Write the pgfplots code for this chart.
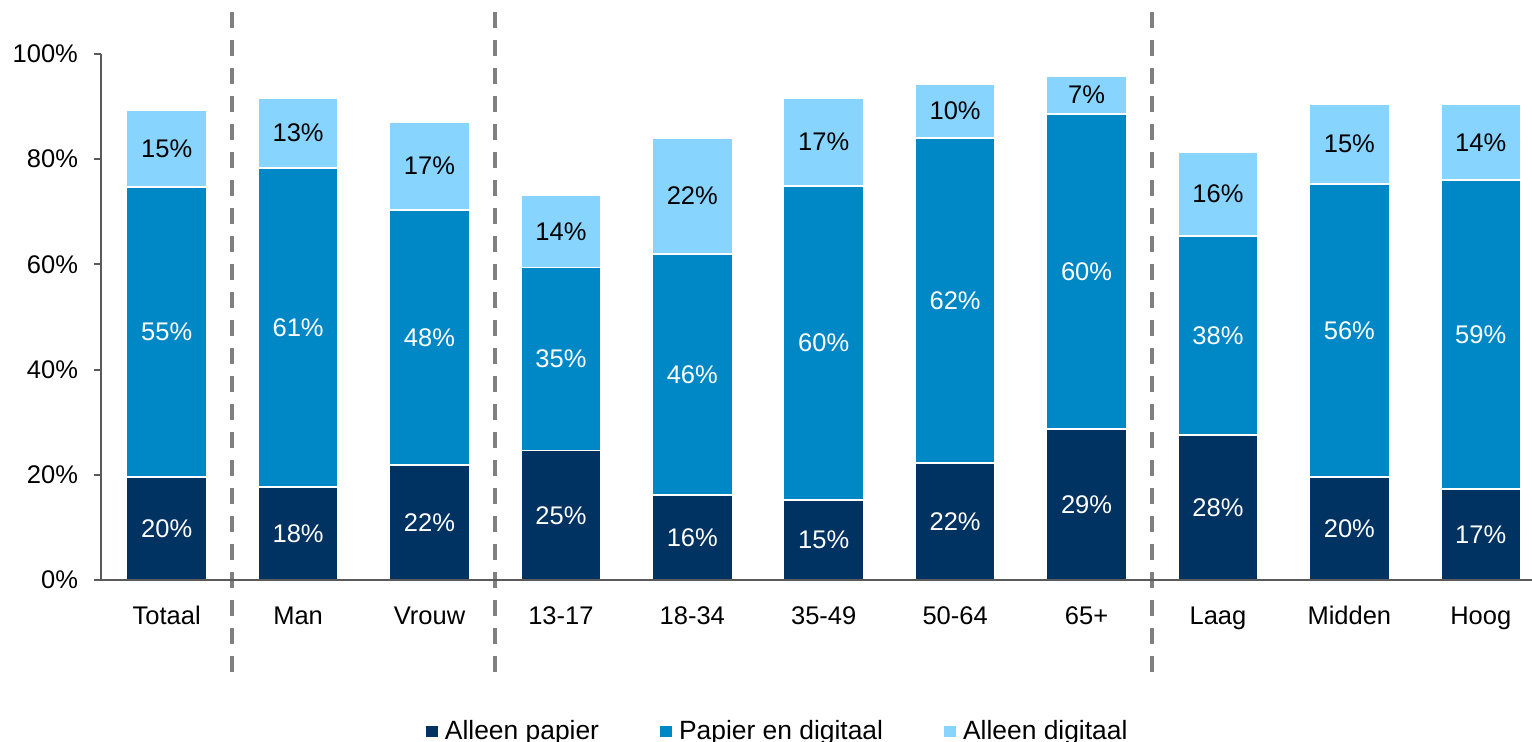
\documentclass[border=0pt]{standalone}
\usepackage{pgfplots}
\pgfplotsset{compat=1.18}
\usepackage{pgfplotstable}
\usepackage{fontspec}
\setmainfont{Liberation Sans}

\definecolor{dark}{HTML}{003262}
\definecolor{mid}{HTML}{0088C6}
\definecolor{light}{HTML}{87D5FF}
\definecolor{axisgray}{HTML}{5A5A5A}
\definecolor{dashgray}{HTML}{808080}
\newcommand\f{\fontsize{12.75}{15}\selectfont}
\newcommand\lf{\fontsize{13.2}{15}\selectfont}

% a = alleen papier, b = papier en digitaal, c = alleen digitaal
\pgfplotstableread{
x a b c
0 19.6 55.1 14.6
1 17.7 60.6 13.3
2 21.9 48.4 16.8
3 24.6 34.8 13.7
4 16.2 45.8 22.0
5 15.2 59.7 16.7
6 22.2 61.8 10.3
7 28.7 59.9 7.2
8 27.6 37.8 16.0
9 19.6 55.7 15.2
10 17.3 58.7 14.4
}\data

\pgfplotsset{
  common/.style={
    scale only axis,
    width=715.5pt, height=263pt,
    xmin=-0.5, xmax=10.39,
    ymin=0, ymax=100,
  },
}

\begin{document}
\begin{tikzpicture}
\begin{axis}[
  common,
  ybar stacked,
  bar width=40pt,
  clip=false,
  axis on top,
  axis lines*=left,
  axis line style={axisgray, line width=1pt},
  xtick=data,
  xticklabels={Totaal,Man,Vrouw,13-17,18-34,35-49,50-64,65+,Laag,Midden,Hoog},
  xtick style={draw=none},
  xticklabel style={font=\f, text height=9.6pt, yshift=-5.5pt},
  ytick={0,20,40,60,80,100},
  yticklabels={0\%,20\%,40\%,60\%,80\%,100\%},
  ytick style={axisgray, line width=1pt},
  major tick length=3.5pt,
  tick align=outside,
  yticklabel style={font=\f, xshift=-4.5pt},
  legend columns=3,
  legend image code/.code={\draw[#1, draw=none] (0pt,-2.75pt) rectangle (6pt,2.75pt);},
  legend style={draw=none, font=\lf, inner sep=0pt, outer sep=0pt,
    at={(0.2271,-0.2887)}, anchor=west,
    nodes={inner sep=1.5pt},
    /tikz/every odd column/.append style={column sep=2pt},
    /tikz/every even column/.append style={column sep=29pt}},
  every axis plot/.append style={draw=white, line width=0.75pt},
]
\addplot[fill=dark] table[x=x, y=a] {\data};
\addlegendentry{Alleen papier}
\addplot[fill=mid] table[x=x, y=b] {\data};
\addlegendentry{Papier en digitaal}
\addplot[fill=light] table[x=x, y=c] {\data};
\addlegendentry{Alleen digitaal}

\draw[dashgray, line width=2pt, dash pattern=on 8pt off 6pt] (axis cs:0.5,108) -- (axis cs:0.5,-17.5);
\draw[dashgray, line width=2pt, dash pattern=on 8pt off 6pt] (axis cs:2.5,108) -- (axis cs:2.5,-17.5);
\draw[dashgray, line width=2pt, dash pattern=on 8pt off 6pt] (axis cs:7.5,108) -- (axis cs:7.5,-17.5);

\coordinate (SW) at (rel axis cs:0,0);
\coordinate (NE) at (rel axis cs:1,1);
\end{axis}

\begin{axis}[
  common,
  hide axis,
  clip=false,
  /pgf/number format/assume math mode=true,
  nodes near coords={\pgfmathprintnumber[fixed, precision=0]{\pgfplotspointmeta}\%},
  every node near coord/.append style={font=\f, anchor=center},
  point meta=explicit,
]
\addplot[draw=none, every node near coord/.append style={text=white}]
  table[x=x, y expr=\thisrow{a}/2, meta=a] {\data};
\addplot[draw=none, every node near coord/.append style={text=white}]
  table[x=x, y expr=\thisrow{a}+\thisrow{b}/2, meta=b] {\data};
\addplot[draw=none, every node near coord/.append style={text=black}]
  table[x=x, y expr=\thisrow{a}+\thisrow{b}+\thisrow{c}/2, meta=c] {\data};
\end{axis}

\pgfresetboundingbox
\useasboundingbox ([xshift=-50.5pt,yshift=-81pt]SW) rectangle ([yshift=27pt]NE);
\end{tikzpicture}
\end{document}
